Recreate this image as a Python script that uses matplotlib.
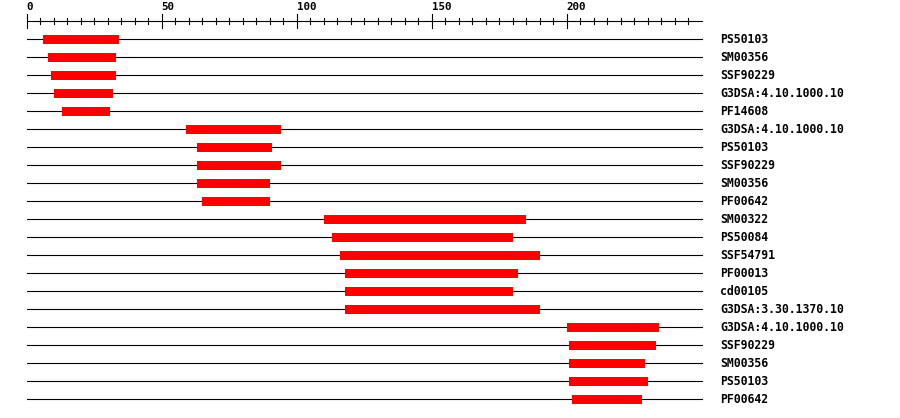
import matplotlib.pyplot as plt

labels = ["PS50103", "SM00356", "SSF90229", "G3DSA:4.10.1000.10", "PF14608",
          "G3DSA:4.10.1000.10", "PS50103", "SSF90229", "SM00356", "PF00642",
          "SM00322", "PS50084", "SSF54791", "PF00013", "cd00105",
          "G3DSA:3.30.1370.10", "G3DSA:4.10.1000.10", "SSF90229", "SM00356",
          "PS50103", "PF00642"]
starts = [6, 8, 9, 10, 13, 59, 63, 63, 63, 65,
          110, 113, 116, 118, 118, 118, 200, 201, 201, 201, 202]
ends = [34, 33, 33, 32, 31, 94, 91, 94, 90, 90,
        185, 180, 190, 182, 180, 190, 234, 233, 229, 230, 228]
seq_len = 250


def draw_domains():
    fig = plt.figure(figsize=(9, 4.18), dpi=100)
    ax = fig.add_axes([0, 0, 1, 1])
    ax.set_xlim(-26.7 / 2.7, (900 - 26.7) / 2.7)
    ax.set_ylim((418 - 39.3) / 18, -39.3 / 18)
    ax.axis("off")

    # scale ruler on top
    ax.plot([0, seq_len], [-1, -1], color="black", lw=0.8)
    for t in range(0, seq_len, 5):
        if t % 50 == 0:
            ax.plot([t, t], [-1.4, -0.62], color="black", lw=0.8)
            ax.text(t, -1.62, str(t), fontsize=7.8, fontweight="bold",
                    family="DejaVu Sans Mono", ha="left", va="baseline")
        else:
            ax.plot([t, t], [-1.17, -0.83], color="black", lw=0.8)

    for i, (lab, s, e) in enumerate(zip(labels, starts, ends)):
        ax.plot([0, seq_len], [i, i], color="black", lw=0.8, zorder=1)
        ax.barh(i, e - s, left=s, height=0.5, color="#ff0000", zorder=2)
        ax.text((720 - 26.7) / 2.7, i, lab, fontsize=8.3, fontweight="bold",
                family="DejaVu Sans Mono", ha="left", va="center")

    fig.savefig("out.png", dpi=100)
    plt.close(fig)


if __name__ == "__main__":
    draw_domains()
